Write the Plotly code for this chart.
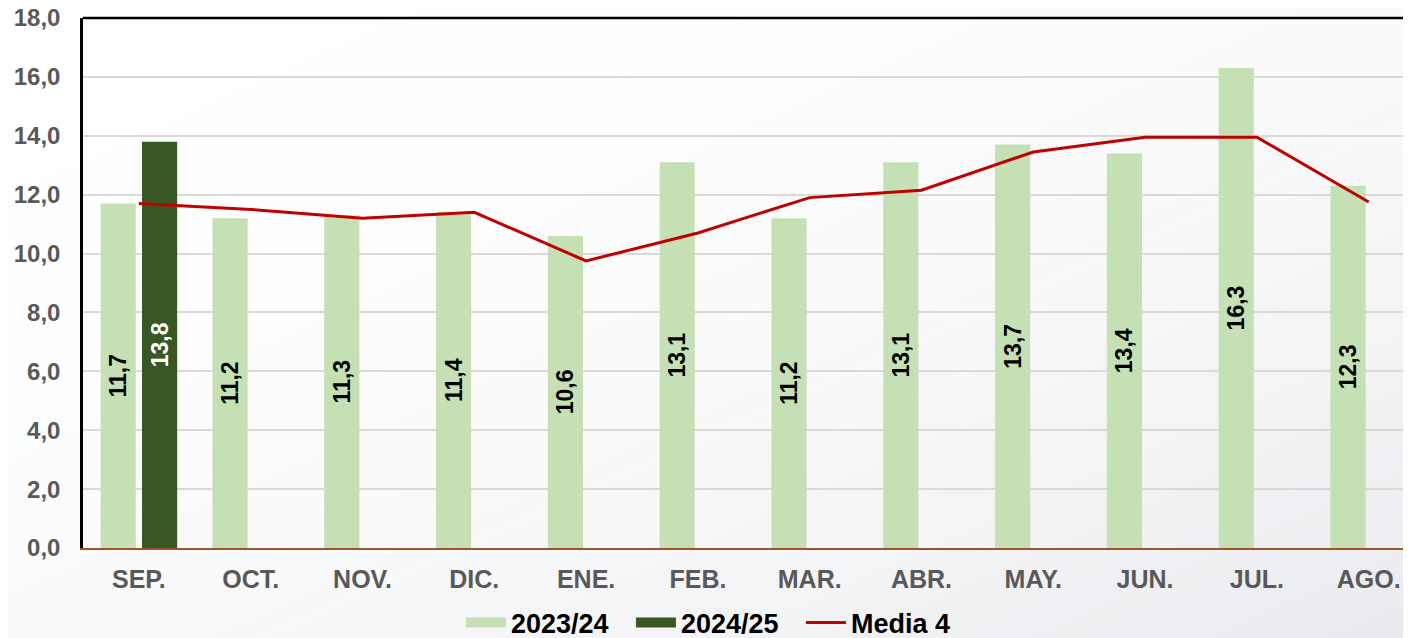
import plotly.graph_objects as go

months = ["SEP.", "OCT.", "NOV.", "DIC.", "ENE.", "FEB.", "MAR.", "ABR.", "MAY.", "JUN.", "JUL.", "AGO."]
s2023_24 = [11.7, 11.2, 11.3, 11.4, 10.6, 13.1, 11.2, 13.1, 13.7, 13.4, 16.3, 12.3]
s2024_25 = [13.8, None, None, None, None, None, None, None, None, None, None, None]
media4 = [11.7, 11.5, 11.2, 11.4, 9.75, 10.7, 11.9, 12.15, 13.45, 13.95, 13.95, 11.75]
y_ticks = [0, 2, 4, 6, 8, 10, 12, 14, 16, 18]

C_LIGHT = "#c5e0b4"
C_DARK = "#385723"
C_RED = "#c00000"

W, H = 1411, 638
ML, MR, MT, MB = 75, 0, 10, 98
PW, PH = W - ML - MR, H - MT - MB

fig = go.Figure()
fig.add_trace(go.Bar(
    name="2023/24", x=months, y=s2023_24, showlegend=False,
    marker=dict(color=C_LIGHT, line=dict(width=0)),
    texttemplate="%{y:.1f}", textposition="inside", insidetextanchor="middle",
    textangle=-90, constraintext="none",
    insidetextfont=dict(family="Arial", size=23, color="#000000", weight="bold"),
    hoverinfo="skip",
))
fig.add_trace(go.Bar(
    name="2024/25", x=months, y=s2024_25, showlegend=False,
    marker=dict(color=C_DARK, line=dict(width=0)),
    texttemplate="%{y:.1f}", textposition="inside", insidetextanchor="middle",
    textangle=-90, constraintext="none",
    insidetextfont=dict(family="Arial", size=23, color="#ffffff", weight="bold"),
    hoverinfo="skip",
))
fig.add_trace(go.Scatter(
    name="Media 4", x=months, y=media4, mode="lines", showlegend=False,
    line=dict(color=C_RED, width=3), hoverinfo="skip",
))
# legend entries (wide swatches like the original)
for nm, col, lw in [("2023/24", C_LIGHT, 14), ("2024/25", C_DARK, 14), ("Media 4", C_RED, 3)]:
    fig.add_trace(go.Scatter(name=nm, x=[None], y=[None], mode="lines",
                             line=dict(color=col, width=lw), showlegend=True, hoverinfo="skip"))

# diagonal background gradient over whole figure
def to_paper(X, Y):
    return (X - ML) / PW, (H - MB - Y) / PH

shapes = []
N = 48
c0 = (255, 255, 255)
c1 = (233, 234, 238)
for i in range(N):
    s0 = i / N * 2.0
    s1 = (i + 1) / N * 2.0
    if i == N - 1:
        s1 = 2.5
    t = (i + 0.5) / N
    tm = t ** 2.0
    col = tuple(round(c0[k] + (c1[k] - c0[k]) * tm) for k in range(3))
    pts = [(-W, H * (s0 + 1)), (2 * W, H * (s0 - 2)), (2 * W, H * (s1 - 2)), (-W, H * (s1 + 1))]
    pp = [to_paper(X, Y) for X, Y in pts]
    path = "M " + " L ".join(f"{a:.5f},{b:.5f}" for a, b in pp) + " Z"
    shapes.append(dict(type="path", xref="paper", yref="paper", path=path,
                       fillcolor="rgb(%d,%d,%d)" % col, line=dict(width=0), layer="below"))

# top border of plot area
shapes.append(dict(type="line", xref="x domain", yref="y domain", x0=0, x1=1, y0=1, y1=1,
                   line=dict(color="#000000", width=2.5), layer="above"))

fig.update_layout(
    width=W, height=H,
    margin=dict(l=ML, r=MR, t=MT, b=MB, autoexpand=False),
    paper_bgcolor="rgba(0,0,0,0)",
    plot_bgcolor="rgba(0,0,0,0)",
    separators=",.",
    barmode="group", bargap=0.26, bargroupgap=0.15,
    shapes=shapes,
    showlegend=True,
    legend=dict(orientation="h", xref="container", x=0.321, xanchor="left",
                yref="container", y=0.036, yanchor="middle",
                font=dict(family="Arial", size=27, color="#000000", weight="bold"),
                bgcolor="rgba(0,0,0,0)", itemwidth=40, tracegroupgap=0,
                entrywidth=115, entrywidthmode="pixels"),
    xaxis=dict(
        range=[-0.5, 11.45], automargin=False,
        showgrid=False, showline=True, linecolor="#a0522d", linewidth=2,
        ticks="outside", ticklen=8, tickcolor="rgba(0,0,0,0)",
        tickfont=dict(family="Arial", size=25, color="#595959", weight="bold"),
        zeroline=False,
    ),
    yaxis=dict(
        range=[0, 18], tickvals=y_ticks, tickformat=".1f", automargin=False,
        showgrid=True, gridcolor="#d9d9d9", gridwidth=1.5,
        showline=True, linecolor="#000000", linewidth=2.5,
        ticks="outside", ticklen=15, tickcolor="rgba(0,0,0,0)",
        ticklabeloverflow="allow",
        tickfont=dict(family="Arial", size=24, color="#595959", weight="bold"),
        zeroline=False,
    ),
)

fig.write_html("out.html")
